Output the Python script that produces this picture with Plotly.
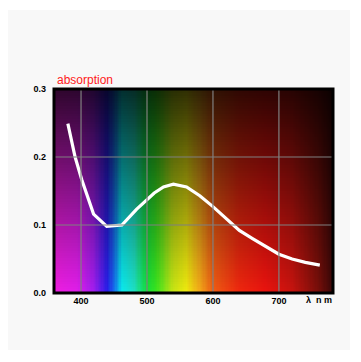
import numpy as np
import plotly.graph_objects as go

# data
wavelength = [380, 391, 401, 419, 439, 462, 484, 511, 525, 540, 560, 580, 600, 620, 640, 660, 680, 700, 720, 740, 762]
absorption = [0.249, 0.200, 0.167, 0.116, 0.098, 0.100, 0.123, 0.147, 0.156, 0.160, 0.156, 0.143, 0.127, 0.110, 0.092, 0.080, 0.068, 0.057, 0.050, 0.045, 0.041]
x_ticks = [400, 500, 600, 700]
y_ticks = [0.0, 0.1, 0.2, 0.3]
y_tick_text = ["0.0", "0.1", "0.2", "0.3"]

x_range = [359, 782]
y_range = [0, 0.3]

# spectrum background colours (style)
spec_nm = [359, 395, 420, 440, 452, 462, 480, 500, 515, 540, 560, 580, 600, 640, 680, 720, 760, 782]
spec_rgb = [
    (240, 30, 225), (225, 30, 235), (160, 30, 240), (40, 30, 235), (20, 120, 240),
    (10, 235, 240), (30, 225, 200), (20, 225, 60), (60, 230, 30), (200, 230, 20),
    (240, 235, 15), (245, 170, 25), (240, 95, 20), (240, 40, 15), (235, 20, 15),
    (200, 20, 15), (120, 15, 10), (60, 8, 8),
]

nx, ny = 220, 80
xs = np.linspace(x_range[0], x_range[1], nx)
ys = np.linspace(y_range[0], y_range[1], ny)
sr = np.array(spec_rgb, dtype=float)
row = np.stack([np.interp(xs, spec_nm, sr[:, k]) for k in range(3)], axis=-1)
t = ys / y_range[1]
bright = 1.0 - 0.8 * t
img = (bright[:, None, None] * row[None, :, :]).clip(0, 255).astype(np.uint8)

fig = go.Figure()
fig.add_trace(go.Image(
    z=img, x0=xs[0], dx=(xs[-1] - xs[0]) / (nx - 1), y0=ys[0], dy=(ys[-1] - ys[0]) / (ny - 1),
    hoverinfo="skip",
))
fig.add_trace(go.Scatter(
    x=wavelength, y=absorption, mode="lines",
    line=dict(color="white", width=3.2), hoverinfo="skip",
))

shapes = [dict(type="rect", xref="paper", yref="paper", x0=-0.172, x1=1.061, y0=-0.279, y1=1.387,
               fillcolor="#f8f8f8", line=dict(width=0), layer="below")]
for v in x_ticks:
    shapes.append(dict(type="line", xref="x", yref="paper", x0=v, x1=v, y0=0, y1=1,
                       line=dict(color="#808080", width=1.2), layer="above"))
for v in y_ticks[1:-1]:
    shapes.append(dict(type="line", xref="paper", yref="y", x0=0, x1=1, y0=v, y1=v,
                       line=dict(color="#808080", width=1.2), layer="above"))
shapes.append(dict(type="rect", xref="paper", yref="paper", x0=0, x1=1, y0=0, y1=1,
                   line=dict(color="black", width=3), layer="above"))

tick_font = dict(size=9, color="#000000", family="Liberation Sans, Arial, sans-serif", weight="bold")

fig.update_layout(
    width=361, height=362,
    margin=dict(l=46, r=36, t=81, b=77),
    paper_bgcolor="white", plot_bgcolor="black",
    showlegend=False,
    shapes=shapes,
    font=dict(family="Liberation Sans, Arial, sans-serif", size=9, color="#000"),
    xaxis=dict(range=x_range, tickvals=x_ticks, showgrid=False, zeroline=False,
               ticks="", tickfont=tick_font, ticklabelstandoff=1),
    yaxis=dict(range=y_range, tickvals=y_ticks, ticktext=y_tick_text, showgrid=False,
               zeroline=False, ticks="", tickfont=tick_font,
               scaleanchor=False, autorange=False, ticklabelstandoff=7),
    annotations=[
        dict(text="absorption", xref="paper", yref="paper", x=0.005, y=1.0, xanchor="left",
             yanchor="bottom", showarrow=False, font=dict(size=12, color="#ff2020",
             family="Liberation Sans, Arial, sans-serif"), yshift=0),
        dict(text="λ  n m", xref="paper", yref="paper", x=1.005, y=0, xanchor="right",
             yanchor="top", showarrow=False, yshift=0,
             font=tick_font),
    ],
)

fig.write_html("out.html")
